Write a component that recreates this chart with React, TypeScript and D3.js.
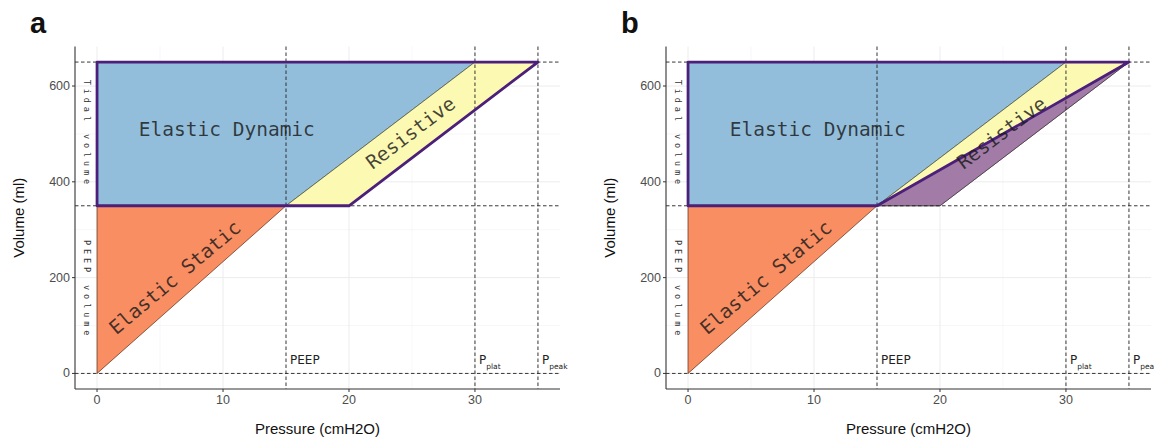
import { useMemo } from "react"
import * as d3 from "d3"

// key pressures (cmH2O) and volumes (ml)
const peep = 15
const pPlat = 30
const pPeak = 35
const pPeakB = 20
const volumeLevels = [0, 350, 650]
const pressureLevels = [peep, pPlat, pPeak]

const xTicks = [0, 10, 20, 30]
const xMinor = [5, 15, 25, 35]
const yTicks = [0, 200, 400, 600]
const yMinor = [100, 300, 500]

// areas of the work of breathing
const elasticStatic: [number, number][] = [[0, 0], [0, 350], [peep, 350]]
const elasticDynamic: [number, number][] = [[0, 350], [0, 650], [pPlat, 650], [peep, 350]]
const resistive: [number, number][] = [[peep, 350], [pPlat, 650], [pPeak, 650], [pPeakB, 350]]
const resistiveExtra: [number, number][] = [[peep, 350], [pPeak, 650], [pPeakB, 350]]
const outlineA: [number, number][] = [[0, 350], [0, 650], [pPeak, 650], [pPeakB, 350]]
const outlineB: [number, number][] = [[0, 350], [0, 650], [pPeak, 650], [peep, 350]]

const areaLabels = [
    { text: "Elastic Dynamic", x: 10.3, y: 510, angle: 0 },
    { text: "Elastic Static", x: 6.2, y: 200, angle: -40 },
    { text: "Resistive", x: 24.9, y: 502, angle: -37 },
]

const panels = [
    { id: "a", left: 75, extra: false },
    { id: "b", left: 666, extra: true },
]

const panelWidth = 485
const top = 46.5
const bottom = 389

const colors = {
    blue: "#93bedb",
    orange: "#f98e63",
    yellow: "#fcf9b3",
    purpleFill: "#a27ca6",
    purpleLine: "#4b1f7a",
    grid: "#ececec",
    gridMinor: "#f5f5f5",
}

function Panel({ id, left, extra }: { id: string; left: number; extra: boolean }) {
    const x = useMemo(() => d3.scaleLinear().domain([-1.75, 36.75]).range([left, left + panelWidth]), [left])
    const y = useMemo(() => d3.scaleLinear().domain([-32.5, 682.5]).range([bottom, top]), [])
    const line = d3.line<[number, number]>().x(d => x(d[0])).y(d => y(d[1]))
    const poly = (pts: [number, number][]) => line(pts) + "Z"
    const mono = "'DejaVu Sans Mono', monospace"
    const sans = "'Liberation Sans', Arial, sans-serif"
    const right = left + panelWidth

    return (
        <g>
            <text x={left - 45} y={33} fontFamily={sans} fontWeight="bold" fontSize={29} fill="#111">{id}</text>

            {/* grid */}
            {xMinor.map(v => <line key={"xm" + v} x1={x(v)} x2={x(v)} y1={top} y2={bottom} stroke={colors.gridMinor} strokeWidth={0.8} />)}
            {yMinor.map(v => <line key={"ym" + v} y1={y(v)} y2={y(v)} x1={left} x2={right} stroke={colors.gridMinor} strokeWidth={0.8} />)}
            {xTicks.map(v => <line key={"xg" + v} x1={x(v)} x2={x(v)} y1={top} y2={bottom} stroke={colors.grid} strokeWidth={1} />)}
            {yTicks.map(v => <line key={"yg" + v} y1={y(v)} y2={y(v)} x1={left} x2={right} stroke={colors.grid} strokeWidth={1} />)}

            {/* areas */}
            <path d={poly(elasticStatic)} fill={colors.orange} stroke="#5a2a12" strokeWidth={0.7} />
            <path d={poly(elasticDynamic)} fill={colors.blue} stroke="#2f4a3a" strokeWidth={0.7} />
            <path d={poly(resistive)} fill={colors.yellow} stroke="#4a4a3a" strokeWidth={0.7} />
            {extra && <path d={poly(resistiveExtra)} fill={colors.purpleFill} stroke="#3d2a40" strokeWidth={0.7} />}

            {/* reference lines */}
            {pressureLevels.map(v => <line key={"pv" + v} x1={x(v)} x2={x(v)} y1={top} y2={bottom} stroke="#222" strokeWidth={0.9} strokeDasharray="3.5 2.5" />)}
            {volumeLevels.map(v => <line key={"vh" + v} y1={y(v)} y2={y(v)} x1={left} x2={right} stroke="#222" strokeWidth={0.9} strokeDasharray="3.5 2.5" />)}

            <path d={poly(extra ? outlineB : outlineA)} fill="none" stroke={colors.purpleLine} strokeWidth={2.8} strokeLinejoin="round" />

            {/* area labels */}
            {areaLabels.map(l => (
                <text key={l.text} transform={`translate(${x(l.x)},${y(l.y)}) rotate(${l.angle})`}
                    textAnchor="middle" dominantBaseline="central" fontFamily={mono} fontSize={19.5}
                    fill="#1a1a1a" fillOpacity={0.82}>{l.text}</text>
            ))}

            {/* volume labels */}
            <text transform={`translate(${x(-0.8)},${y(500)}) rotate(90)`} textAnchor="middle" dominantBaseline="central"
                fontFamily={mono} fontSize={8.5} letterSpacing={3.9} fill="#333">Tidal volume</text>
            <text transform={`translate(${x(-0.8)},${y(175)}) rotate(90)`} textAnchor="middle" dominantBaseline="central"
                fontFamily={mono} fontSize={8.5} letterSpacing={3.9} fill="#333">PEEP volume</text>

            {/* pressure labels */}
            <text x={x(peep) + 4} y={y(0) - 9} fontFamily="'DejaVu Sans', sans-serif" fontSize={12} fill="#222">PEEP</text>
            <text x={x(pPlat) + 4} y={y(0) - 9} fontFamily="'DejaVu Sans', sans-serif" fontSize={12} fill="#222">P<tspan fontSize={7.5} dy={5}>plat</tspan></text>
            <text x={x(pPeak) + 4} y={y(0) - 9} fontFamily="'DejaVu Sans', sans-serif" fontSize={12} fill="#222">P<tspan fontSize={7.5} dy={5}>peak</tspan></text>

            {/* axes */}
            <line x1={left} x2={right} y1={bottom} y2={bottom} stroke="#333" strokeWidth={1.1} />
            <line x1={left} x2={left} y1={top} y2={bottom} stroke="#333" strokeWidth={1.1} />
            {xTicks.map(v => (
                <g key={"xt" + v}>
                    <line x1={x(v)} x2={x(v)} y1={bottom} y2={bottom + 3} stroke="#333" />
                    <text x={x(v)} y={bottom + 15} textAnchor="middle" fontFamily={sans} fontSize={12.5} fill="#4d4d4d">{v}</text>
                </g>
            ))}
            {yTicks.map(v => (
                <g key={"yt" + v}>
                    <line x1={left - 3} x2={left} y1={y(v)} y2={y(v)} stroke="#333" />
                    <text x={left - 5} y={y(v)} textAnchor="end" dominantBaseline="central" fontFamily={sans} fontSize={12.5} fill="#4d4d4d">{v}</text>
                </g>
            ))}
            <text x={left + panelWidth / 2} y={434} textAnchor="middle" fontFamily={sans} fontSize={15} fill="#111">Pressure (cmH2O)</text>
            <text transform={`translate(${left - 57},${(top + bottom) / 2}) rotate(-90)`} textAnchor="middle"
                dominantBaseline="central" fontFamily={sans} fontSize={15} fill="#111">Volume (ml)</text>
        </g>
    )
}

export default function App() {
    return (
        <div>
            <style>{"body{margin:0}"}</style>
            <svg width={1154} height={442} style={{ display: "block", background: "#fff" }}>
                {panels.map(p => <Panel key={p.id} {...p} />)}
            </svg>
        </div>
    )
}
